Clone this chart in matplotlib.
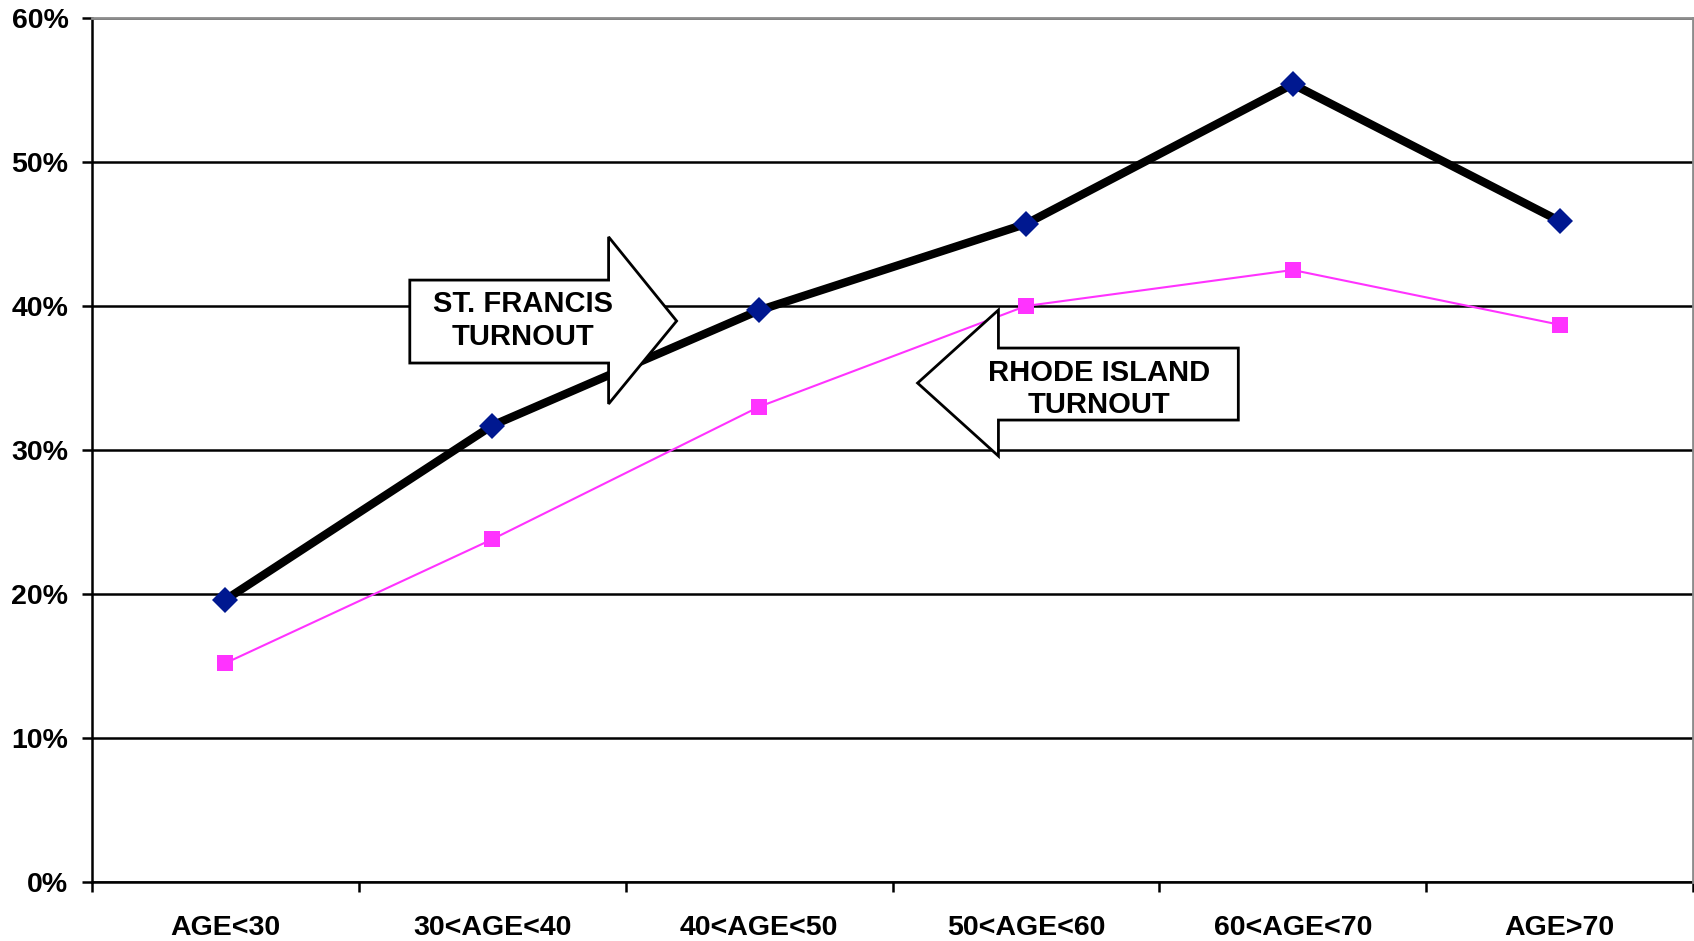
import numpy as np
import matplotlib.pyplot as plt
from matplotlib.patches import Polygon
from matplotlib.ticker import FixedLocator, FuncFormatter

plt.rcParams['font.family'] = ['Liberation Sans', 'DejaVu Sans']
plt.rcParams['font.weight'] = 'bold'

# datos
categorias = ['AGE<30', '30<AGE<40', '40<AGE<50', '50<AGE<60', '60<AGE<70', 'AGE>70']
st_francis = [19.6, 31.7, 39.7, 45.7, 55.4, 45.9]
rhode_island = [15.2, 23.8, 33.0, 40.0, 42.5, 38.7]
y_ticks = [0, 10, 20, 30, 40, 50, 60]

fig = plt.figure(figsize=(16.94, 9.41), dpi=100)
ax = fig.add_axes([92 / 1694, 59 / 941, 1601 / 1694, 864 / 941])

x = np.arange(len(categorias))
ax.plot(x, st_francis, color='black', lw=6, marker='D', ms=13,
        mfc='#001890', mec='#001890', mew=0, zorder=3)
ax.plot(x, rhode_island, color='#ff33ff', lw=1.5, marker='s', ms=11.5,
        mfc='#ff33ff', mec='#ff33ff', mew=0, zorder=3)

ax.set_xlim(-0.5, len(categorias) - 0.5)
ax.set_ylim(0, 60)

# ejes y rejilla
ax.set_yticks(y_ticks)
ax.yaxis.set_major_formatter(FuncFormatter(lambda v, p: f'{v:.0f}%'))
ax.grid(axis='y', color='black', lw=1.8)
ax.tick_params(axis='y', length=7, width=1.8, pad=10, labelsize=20.5)

ax.xaxis.set_major_locator(FixedLocator(np.arange(len(categorias) + 1) - 0.5))
ax.xaxis.set_minor_locator(FixedLocator(x))
ax.set_xticklabels([''] * (len(categorias) + 1))
ax.set_xticklabels(categorias, minor=True)
ax.tick_params(axis='x', which='major', length=7, width=1.8)
ax.tick_params(axis='x', which='minor', length=0, pad=24, labelsize=20.5)

for s in ['left', 'bottom']:
    ax.spines[s].set_color('black')
    ax.spines[s].set_linewidth(1.8)
for s in ['top', 'right']:
    ax.spines[s].set_color('#8c8c8c')
    ax.spines[s].set_linewidth(2)
    ax.spines[s].set_zorder(5)

# flechas con texto
flecha_sf = [(0.691, 41.8), (1.436, 41.8), (1.436, 44.8), (1.691, 38.96),
             (1.436, 33.2), (1.436, 36.04), (0.691, 36.04)]
flecha_ri = [(3.796, 37.08), (2.897, 37.08), (2.897, 39.72), (2.594, 34.65),
             (2.897, 29.58), (2.897, 32.08), (3.796, 32.08)]
for pts in [flecha_sf, flecha_ri]:
    ax.add_patch(Polygon(pts, closed=True, facecolor='white', edgecolor='black',
                         lw=2, joinstyle='miter', zorder=4))

ax.text(1.115, 39.0, 'ST. FRANCIS\nTURNOUT', ha='center', va='center',
        fontsize=21, fontweight='bold', linespacing=1.2, zorder=6)
ax.text(3.275, 34.25, 'RHODE ISLAND\nTURNOUT', ha='center', va='center',
        fontsize=21, fontweight='bold', linespacing=1.2, zorder=6)

fig.savefig('out.png', dpi=100)
